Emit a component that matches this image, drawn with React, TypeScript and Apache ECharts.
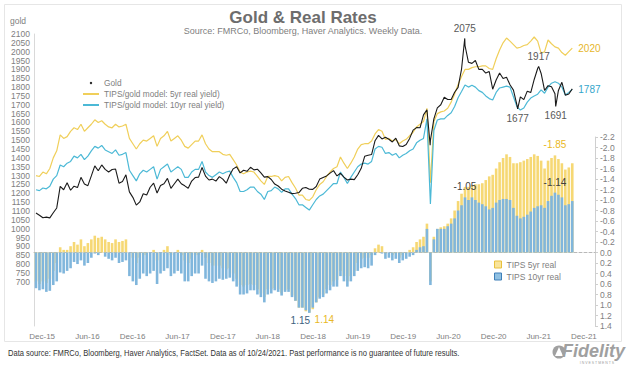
import React, { useEffect, useRef } from 'react';
import * as echarts from 'echarts';

// Bi-weekly observations starting 2015-11-06
const START = Date.UTC(2015, 10, 6);
const STEP_DAYS = 14;
const DAY = 86400000;

const gold = [
  1088, 1076, 1062, 1065, 1061, 1090, 1117, 1239, 1220, 1259, 1217, 1240, 1232, 1290, 1252, 1243, 1298, 1355, 1327, 1360,
  1335, 1320, 1334, 1337, 1257, 1266, 1304, 1208, 1177, 1133, 1151, 1197, 1190, 1234, 1257, 1201, 1244, 1254, 1284, 1228,
  1254, 1280, 1254, 1242, 1228, 1269, 1289, 1291, 1346, 1297, 1275, 1280, 1269, 1294, 1280, 1257, 1303, 1338, 1350, 1315,
  1330, 1324, 1347, 1332, 1336, 1315, 1291, 1294, 1278, 1252, 1241, 1223, 1213, 1206, 1198, 1200, 1204, 1228, 1233, 1223,
  1222, 1238, 1280, 1289, 1298, 1314, 1328, 1298, 1313, 1291, 1275, 1280, 1277, 1305, 1341, 1409, 1415, 1419, 1497, 1527,
  1507, 1516, 1505, 1490, 1511, 1468, 1464, 1476, 1510, 1557, 1571, 1570, 1643, 1672, 1498, 1620, 1683, 1700, 1743, 1730,
  1730, 1771, 1798, 1902, 2035, 1940, 1934, 1950, 1900, 1900, 1879, 1888, 1788, 1840, 1880, 1849, 1856, 1813, 1783, 1700,
  1745, 1729, 1777, 1769, 1843, 1905, 1877, 1781, 1808, 1802, 1763, 1781, 1827, 1754, 1761, 1790,
];

// Extra gold extremes (date, value)
const goldExtremeDates = ['2020-03-19', '2020-08-06', '2021-03-08', '2021-06-01', '2021-08-09'];
const goldExtremeValues = [1472, 2075, 1677, 1917, 1691];
const goldNoteSide = ['', 'top', 'bottom', 'top', 'bottom'];

const model5 = [
  1300, 1295, 1320, 1310, 1340, 1400, 1440, 1530, 1510, 1520, 1550, 1570, 1560, 1590, 1550, 1570, 1590, 1615, 1600, 1610,
  1590, 1575, 1570, 1590, 1575, 1580, 1590, 1510, 1480, 1450, 1480, 1500, 1495, 1510, 1525, 1465, 1510, 1525, 1550, 1495,
  1510, 1525, 1500, 1465, 1455, 1475, 1495, 1495, 1530, 1480, 1450, 1435, 1435, 1435, 1420, 1415, 1420, 1390, 1360, 1320,
  1310, 1320, 1325, 1320, 1295, 1270, 1250, 1295, 1295, 1300, 1295, 1270, 1290, 1295, 1260, 1230, 1190, 1190, 1165, 1160,
  1180, 1220, 1250, 1265, 1295, 1320, 1340, 1350, 1405, 1370, 1340, 1370, 1405, 1450, 1475, 1480, 1480, 1495, 1535, 1560,
  1550, 1505, 1510, 1495, 1505, 1480, 1495, 1505, 1525, 1545, 1575, 1590, 1605, 1680, 1260, 1605, 1650, 1660, 1665, 1680,
  1715, 1760, 1815, 1860, 1900, 1900, 1910, 1915, 1915, 1920, 1920, 1905, 1900, 1960, 2010, 2050, 2077, 2060, 2040, 2020,
  2025, 2035, 2040, 2060, 2083, 2060, 1992, 2000, 2066, 2045, 2027, 2020, 1995, 1980, 2000, 2020,
];

const model10 = [
  1220, 1215, 1230, 1225, 1240, 1280, 1300, 1360, 1350, 1370, 1380, 1410, 1400, 1420, 1390, 1410, 1440, 1465, 1455, 1470,
  1445, 1435, 1425, 1445, 1415, 1420, 1430, 1330, 1300, 1270, 1310, 1330, 1320, 1335, 1350, 1280, 1335, 1350, 1365, 1320,
  1335, 1350, 1335, 1290, 1290, 1320, 1335, 1335, 1380, 1320, 1300, 1290, 1305, 1320, 1310, 1320, 1325, 1290, 1260, 1210,
  1210, 1220, 1235, 1235, 1210, 1195, 1165, 1210, 1215, 1235, 1225, 1205, 1225, 1225, 1195, 1170, 1135, 1135, 1120, 1105,
  1135, 1165, 1185, 1195, 1215, 1235, 1255, 1255, 1320, 1290, 1255, 1290, 1320, 1350, 1365, 1370, 1365, 1380, 1450, 1465,
  1460, 1425, 1430, 1415, 1425, 1400, 1415, 1425, 1440, 1450, 1485, 1500, 1510, 1620, 1140, 1555, 1614, 1620, 1620, 1640,
  1655, 1690, 1740, 1775, 1812, 1800, 1810, 1800, 1780, 1770, 1750, 1735, 1727, 1770, 1795, 1800, 1805, 1800, 1745, 1690,
  1670, 1682, 1715, 1738, 1750, 1760, 1784, 1765, 1800, 1822, 1830, 1822, 1800, 1755, 1770, 1787,
];

const tips5 = [
  0.55, 0.6, 0.55, 0.58, 0.5, 0.35, 0.2, -0.1, -0.05, -0.05, -0.12, -0.2, -0.15, -0.25, -0.12, -0.18, -0.25, -0.32, -0.28, -0.3,
  -0.25, -0.2, -0.18, -0.25, -0.2, -0.22, -0.25, 0.0, 0.1, 0.2, 0.1, 0.05, 0.05, 0.0, -0.05, 0.15, 0.0, -0.05, -0.12, 0.05,
  0.0, -0.05, 0.05, 0.15, 0.2, 0.12, 0.05, 0.05, -0.05, 0.1, 0.2, 0.25, 0.25, 0.25, 0.3, 0.32, 0.3, 0.4, 0.5, 0.62,
  0.65, 0.62, 0.6, 0.62, 0.7, 0.78, 0.85, 0.7, 0.7, 0.68, 0.7, 0.78, 0.72, 0.7, 0.82, 0.92, 1.05, 1.05, 1.12, 1.14,
  1.08, 0.95, 0.85, 0.8, 0.7, 0.62, 0.55, 0.52, 0.35, 0.45, 0.55, 0.45, 0.35, 0.2, 0.12, 0.1, 0.1, 0.05, -0.08, -0.15,
  -0.12, 0.02, 0.0, 0.05, 0.02, 0.1, 0.05, 0.02, -0.05, -0.1, -0.2, -0.25, -0.3, -0.55, 0.55, -0.3, -0.45, -0.48, -0.5, -0.55,
  -0.65, -0.8, -0.98, -1.12, -1.25, -1.25, -1.28, -1.3, -1.3, -1.32, -1.38, -1.45, -1.48, -1.6, -1.72, -1.8, -1.87, -1.82, -1.7, -1.7,
  -1.72, -1.75, -1.78, -1.82, -1.87, -1.84, -1.75, -1.6, -1.75, -1.8, -1.85, -1.78, -1.7, -1.58, -1.62, -1.7,
];

const tips10 = [
  0.68, 0.72, 0.7, 0.75, 0.73, 0.62, 0.55, 0.38, 0.4, 0.35, 0.3, 0.18, 0.22, 0.15, 0.25, 0.2, 0.1, 0.02, 0.05, 0.0,
  0.08, 0.12, 0.15, 0.1, 0.2, 0.18, 0.15, 0.45, 0.55, 0.62, 0.5, 0.4, 0.45, 0.4, 0.35, 0.6, 0.4, 0.35, 0.3, 0.45,
  0.4, 0.35, 0.4, 0.55, 0.55, 0.45, 0.4, 0.4, 0.25, 0.5, 0.55, 0.58, 0.55, 0.5, 0.52, 0.5, 0.48, 0.55, 0.65, 0.8,
  0.8, 0.78, 0.72, 0.72, 0.8, 0.85, 0.95, 0.8, 0.78, 0.72, 0.75, 0.82, 0.75, 0.75, 0.85, 0.92, 1.05, 1.05, 1.1, 1.15,
  1.05, 0.95, 0.88, 0.85, 0.78, 0.72, 0.65, 0.65, 0.45, 0.55, 0.65, 0.55, 0.45, 0.35, 0.3, 0.28, 0.3, 0.25, 0.05, 0.0,
  0.02, 0.12, 0.1, 0.15, 0.12, 0.2, 0.15, 0.12, 0.08, 0.05, -0.05, -0.1, -0.12, -0.45, 0.62, -0.25, -0.45, -0.45, -0.45, -0.5,
  -0.55, -0.65, -0.8, -0.9, -1.05, -1.0, -1.05, -1.0, -0.95, -0.92, -0.88, -0.82, -0.85, -0.95, -1.0, -1.02, -1.02, -1.0, -0.85, -0.7,
  -0.65, -0.68, -0.72, -0.78, -0.85, -0.88, -0.9, -0.85, -0.98, -1.08, -1.14, -1.1, -1.05, -0.9, -0.92, -0.98,
];

const tips5NoteIdx = [150, 79];
const tips10NoteIdx = [150, 124, 79];

const xTickLabels = ['Dec-15', 'Jun-16', 'Dec-16', 'Jun-17', 'Dec-17', 'Jun-18', 'Dec-18', 'Jun-19', 'Dec-19', 'Jun-20', 'Dec-20', 'Jun-21', 'Dec-21'];

const MONTHS = ['Jan', 'Feb', 'Mar', 'Apr', 'May', 'Jun', 'Jul', 'Aug', 'Sep', 'Oct', 'Nov', 'Dec'];
const tickTs = xTickLabels.map((l) => {
  const [m, y] = l.split('-');
  return Date.UTC(2000 + Number(y), MONTHS.indexOf(m), 1);
});

const XMIN = Date.UTC(2015, 9, 29);
const XMAX = Date.UTC(2022, 0, 15);
const FONT = 'Liberation Sans, Arial, sans-serif';

const dates = gold.map((_, i) => START + i * STEP_DAYS * DAY);

function buildOption() {
  const goldPts: [number, number][] = dates.map((d, i) => [d, gold[i]]);
  goldExtremeDates.forEach((d, i) => goldPts.push([new Date(d).getTime(), goldExtremeValues[i]]));
  goldPts.sort((a, b) => a[0] - b[0]);

  const noteLabel = { fontFamily: FONT, fontSize: 10, color: '#595959' };
  const hiddenSym = { symbol: 'circle', symbolSize: 1, itemStyle: { color: 'rgba(0,0,0,0)' } };

  return {
    animation: false,
    backgroundColor: '#ffffff',
    textStyle: { fontFamily: FONT },
    grid: [
      { left: 34, right: 35, top: 34, height: 292 },
      { left: 34, right: 35, top: 137, height: 189 },
    ],
    xAxis: [
      {
        type: 'value', gridIndex: 0, min: XMIN, max: XMAX, scale: true,
        axisLine: { show: false }, axisTick: { show: false }, splitLine: { show: false },
        axisLabel: {
          customValues: tickTs,
          formatter: (v: number) => {
            const k = tickTs.findIndex((t) => Math.abs(t - v) < DAY);
            return k >= 0 ? xTickLabels[k] : '';
          },
          color: '#808080', fontSize: 8, margin: 6, fontFamily: FONT,
        },
      },
      {
        type: 'value', gridIndex: 1, min: XMIN, max: XMAX, scale: true,
        axisLabel: { show: false }, axisTick: { show: false }, splitLine: { show: false },
        axisLine: { show: true, onZero: true, lineStyle: { color: '#b8b8b8', type: [3, 2], width: 1 } },
        z: 1,
      },
    ],
    yAxis: [
      {
        type: 'value', gridIndex: 0, position: 'left', min: 450, max: 2100, interval: 50,
        axisLine: { show: true, lineStyle: { color: '#d9d9d9' } }, axisTick: { show: false }, splitLine: { show: false },
        axisLabel: {
          formatter: (v: number) => (v >= 700 ? String(v) : ''),
          color: '#808080', fontSize: 8.5, margin: 4, fontFamily: FONT,
        },
      },
      {
        type: 'value', gridIndex: 1, position: 'right', inverse: true, min: -2.2, max: 1.4, interval: 0.2,
        axisLine: { show: true, lineStyle: { color: '#cfcfcf' } },
        axisTick: { show: true, length: 3, lineStyle: { color: '#cfcfcf' } },
        splitLine: { show: false },
        axisLabel: {
          formatter: (v: number) => (Math.abs(v) < 1e-9 ? '0.0' : v.toFixed(1)),
          color: '#808080', fontSize: 8.5, margin: 5, fontFamily: FONT,
        },
      },
    ],
    legend: [
      {
        orient: 'vertical', left: 77, top: 74, itemWidth: 16, itemHeight: 3, itemGap: 3,
        textStyle: { fontSize: 8.3, color: '#808080', fontFamily: FONT },
        data: [
          { name: 'Gold', lineStyle: { opacity: 0 }, itemStyle: { color: '#222222', borderWidth: 0 } },
          { name: 'TIPS/gold model: 5yr real yield)', itemStyle: { opacity: 0 } },
          { name: 'TIPS/gold model: 10yr real yield)', itemStyle: { opacity: 0 } },
        ],
      },
      {
        orient: 'vertical', left: 489, top: 255, icon: 'rect', itemWidth: 7, itemHeight: 7, itemGap: 3,
        textStyle: { fontSize: 8.5, color: '#808080', fontFamily: FONT },
        data: [
          { name: 'TIPS 5yr real', itemStyle: { color: '#F9E49A', borderColor: '#E8C13E', borderWidth: 1 } },
          { name: 'TIPS 10yr real', itemStyle: { color: '#8FC0E2', borderColor: '#3F7FB8', borderWidth: 1 } },
        ],
      },
    ],
    series: [
      {
        name: 'TIPS 5yr real', type: 'bar', xAxisIndex: 1, yAxisIndex: 1, z: 2,
        barWidth: 2.6, barGap: '-100%',
        itemStyle: { color: '#F6D874' },
        data: dates.map((d, i) => [d, tips5[i]]),
        markPoint: {
          ...hiddenSym,
          data: tips5NoteIdx.map((k, j) => ({
            coord: [dates[k], tips5[k]], value: tips5[k],
            label: {
              show: true, formatter: String(tips5[k]), ...noteLabel, color: '#E9B824',
              position: tips5[k] < 0 ? 'top' : 'bottom', distance: j === 1 ? 2 : 5,
              offset: j === 1 ? [15, 0] : [0, 0],
            },
          })),
        },
      },
      {
        name: 'TIPS 10yr real', type: 'bar', xAxisIndex: 1, yAxisIndex: 1, z: 2,
        barWidth: 2.6, barGap: '-100%',
        itemStyle: { color: '#80B6DC' },
        data: dates.map((d, i) => [d, tips10[i]]),
        markPoint: {
          ...hiddenSym,
          data: tips10NoteIdx.map((k) => ({
            coord: [dates[k], tips10[k]], value: tips10[k],
            label: {
              show: true, formatter: String(tips10[k]), ...noteLabel,
              color: tips10[k] < 0 ? '#404040' : '#3D5F7E',
              position: tips10[k] < 0 ? 'top' : 'bottom', distance: tips10[k] < 0 ? 5 : 2,
              offset: tips10[k] < 0 ? [0, 0] : [-9, 0],
            },
          })),
        },
      },
      {
        name: 'TIPS/gold model: 5yr real yield)', type: 'line', xAxisIndex: 0, yAxisIndex: 0, z: 4,
        symbol: 'none', lineStyle: { color: '#F0CF5A', width: 1.2 }, itemStyle: { color: '#F0CF5A' },
        data: dates.map((d, i) => [d, model5[i]]),
        endLabel: {
          show: true, formatter: (p: any) => String(p.value[1]), color: '#E6B62A',
          fontSize: 10, fontFamily: FONT, distance: 6,
        },
      },
      {
        name: 'TIPS/gold model: 10yr real yield)', type: 'line', xAxisIndex: 0, yAxisIndex: 0, z: 4,
        symbol: 'none', lineStyle: { color: '#4CB9D6', width: 1.2 }, itemStyle: { color: '#4CB9D6' },
        data: dates.map((d, i) => [d, model10[i]]),
        endLabel: {
          show: true, formatter: (p: any) => String(p.value[1]), color: '#35A6CB',
          fontSize: 10, fontFamily: FONT, distance: 6,
        },
      },
      {
        name: 'Gold', type: 'line', xAxisIndex: 0, yAxisIndex: 0, z: 5,
        symbol: 'circle', symbolSize: 2, showSymbol: false,
        lineStyle: { color: '#1a1a1a', width: 1.1 }, itemStyle: { color: '#1a1a1a' },
        data: goldPts,
        markPoint: {
          ...hiddenSym,
          data: goldExtremeDates
            .map((d, i) => ({ d, i }))
            .filter(({ i }) => goldNoteSide[i] !== '')
            .map(({ d, i }) => ({
              coord: [new Date(d).getTime(), goldExtremeValues[i]], value: goldExtremeValues[i],
              label: {
                show: true, formatter: String(goldExtremeValues[i]), ...noteLabel,
                position: goldNoteSide[i], distance: 4,
              },
            })),
        },
      },
    ],
    graphic: [
      { type: 'rect', z: -10, shape: { x: 4.5, y: 4.5, width: 617, height: 337 }, style: { fill: 'none', stroke: '#e6e6e6', lineWidth: 1 } },
      { type: 'text', x: 10, y: 16, style: { text: 'gold', fontSize: 8.5, fill: '#808080', fontFamily: FONT } },
      { type: 'text', x: 303, y: 17, style: { text: 'Gold & Real Rates', fontSize: 17, fontWeight: 'bold', fill: '#6d6d6d', fontFamily: FONT, textAlign: 'center', textVerticalAlign: 'middle' } },
      { type: 'text', x: 303, y: 31, style: { text: 'Source: FMRCo, Bloomberg, Haver Analytics. Weekly Data.', fontSize: 9, fill: '#808080', fontFamily: FONT, textAlign: 'center', textVerticalAlign: 'middle' } },
      { type: 'text', x: 8, y: 353, scaleX: 0.88, style: { text: 'Data source: FMRCo, Bloomberg, Haver Analytics, FactSet. Data as of 10/24/2021. Past performance is no guarantee of future results.', fontSize: 8.6, fill: '#333333', fontFamily: FONT, textVerticalAlign: 'middle' } },
      { type: 'circle', shape: { cx: 559, cy: 352, r: 6.5 }, style: { fill: '#a0a0a0' } },
      { type: 'polygon', shape: { points: [[555, 356], [559, 347], [563, 356]] }, style: { fill: '#ffffff' } },
      { type: 'text', x: 625, y: 351, style: { text: 'Fidelity', fontSize: 18, fontWeight: 'bold', fontStyle: 'italic', fill: '#a0a0a0', fontFamily: FONT, textAlign: 'right', textVerticalAlign: 'middle' } },
      { type: 'text', x: 597, y: 363, style: { text: 'I N V E S T M E N T S', fontSize: 3.5, fill: '#a0a0a0', fontFamily: FONT, textAlign: 'center', textVerticalAlign: 'middle' } },
    ],
  };
}

export default function App() {
  const ref = useRef<HTMLDivElement>(null);
  useEffect(() => {
    document.body.style.margin = '0';
    const chart = echarts.init(ref.current as HTMLDivElement, null, { renderer: 'svg' });
    chart.setOption(buildOption() as any);
    return () => chart.dispose();
  }, []);
  return <div ref={ref} style={{ width: 630, height: 367 }} />;
}
